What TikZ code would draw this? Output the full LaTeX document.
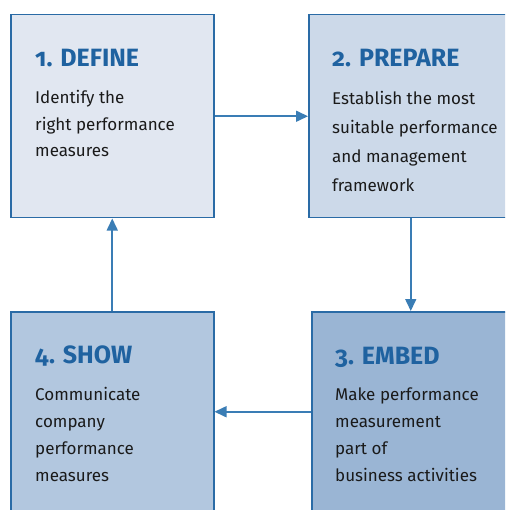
\documentclass[tikz,border=0pt]{standalone}
\usepackage{fontspec}
\setmainfont{Fira Sans}
\usetikzlibrary{arrows.meta,calc}
\definecolor{edge}{HTML}{2A6BA6}
\definecolor{arr}{HTML}{3A7DB5}
\definecolor{ttl}{HTML}{1F62A0}
\definecolor{fa}{HTML}{E1E7F1}
\definecolor{fb}{HTML}{CCD9E9}
\definecolor{fc}{HTML}{9AB5D4}
\definecolor{fd}{HTML}{B2C7DF}
\definecolor{bodytxt}{HTML}{1A1A1A}
\tikzset{
  box/.style={draw=edge, line width=1.5pt, inner sep=0pt, anchor=north west},
  ttlnode/.style={anchor=base west, inner sep=0pt, text=ttl, font=\fontsize{25}{25}\selectfont\bfseries\addfontfeatures{Numbers=OldStyle}},
  bodynode/.style={anchor=base west, inner sep=0pt, text=bodytxt, align=left, font=\fontsize{17}{26.7}\selectfont},
  link/.style={draw=arr, line width=1.6pt, -{Triangle[length=12pt,width=11pt]}}
}
\begin{document}
\begin{tikzpicture}[x=1pt,y=-1pt]
\useasboundingbox (0,0) rectangle (505,510);
\begin{scope}
\clip (0,0) rectangle (505,510);
\node[box, fill=fa, minimum width=203pt, minimum height=203pt] (b1) at (10,14) {};
\node[box, fill=fb, minimum width=204pt, minimum height=203pt] (b2) at (308,14) {};
\node[box, fill=fc, minimum width=198pt, minimum height=200pt] (b3) at (311,311) {};
\node[box, fill=fd, minimum width=203pt, minimum height=200pt] (b4) at (10,311) {};
\end{scope}
\node[ttlnode] (t1) at (35,67) {1. DEFINE};
\node[ttlnode] (t2) at (332,67) {2. PREPARE};
\node[ttlnode] (t3) at (335,364) {3. EMBED};
\node[ttlnode] (t4) at (35,363) {4. SHOW};
\node[bodynode, font=\fontsize{17}{26.5}\selectfont] (d1) at (35,157) {Identify the\\right performance\\measures};
\node[bodynode, font=\fontsize{17}{29.3}\selectfont] (d2) at (332,192) {Establish the most\\suitable performance\\and management\\framework};
\node[bodynode] (d3) at (335,481) {Make performance\\measurement\\part of\\business activities};
\node[bodynode] (d4) at (35,481) {Communicate\\company\\performance\\measures};
\draw[link] (b1.east) -- (b2.west);
\draw[link] (b2.south) -- (b3.north);
\draw[link] (b3.west) -- (b4.east);
\draw[link] (b4.north) -- (b1.south);
\end{tikzpicture}
\end{document}
